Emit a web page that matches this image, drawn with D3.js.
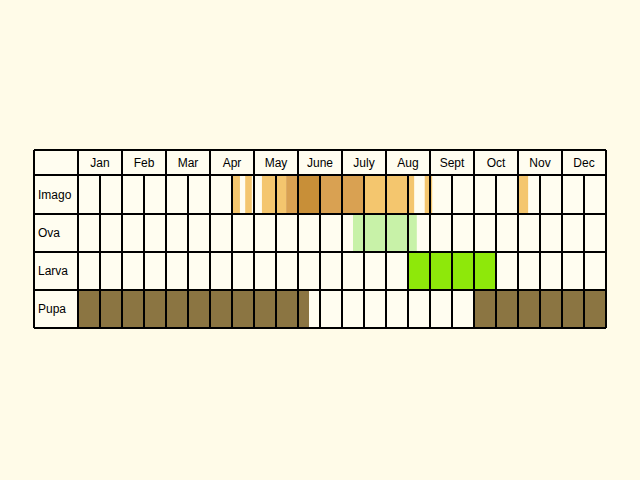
<!DOCTYPE html><html><head><script src="https://cdn.jsdelivr.net/npm/d3@7"></script>
<style>body{margin:0;background:#fffbe8}</style></head><body><svg id="c" width="640" height="480"></svg>
<script>
const months=["Jan","Feb","Mar","Apr","May","June","July","Aug","Sept","Oct","Nov","Dec"];
const stages=["Imago","Ova","Larva","Pupa"];
// spans in months (0 = Jan 1), [stage,start,end,shade]
const imagoSpans=[[3.5,3.68,"l"],[3.8,3.95,"l"],[4.18,4.48,"l"],[4.52,4.73,"l"],[4.73,5.0,"m"],[5.0,5.5,"d"],[5.5,6.5,"m"],[6.5,7.5,"l"],[7.5,7.64,"l"],[7.88,8.05,"l"],[10.0,10.23,"l"]];
const ovaSpans=[[6.25,7.7]];
const larvaSpans=[[7.5,9.5]];
const pupaSpans=[[0,5.25],[9.0,12]];
const shades={l:"#f4c66e",m:"#d9a152",d:"#c88f38"};
const svg=d3.select("#c");
svg.append("rect").attr("width",640).attr("height",480).attr("fill","#fffbe8");
const x=d3.scaleLinear().domain([0,12]).range([78,606]);
const y=d3.scaleBand().domain(["hdr",...stages]).range([150,328]).paddingInner(0);
// custom row heights: header shorter
const rowY={hdr:[150,175],Imago:[175,214],Ova:[214,252],Larva:[252,290],Pupa:[290,328]};
svg.append("rect").attr("x",34).attr("y",150).attr("width",572).attr("height",178).attr("fill","#fffdf0");
function spans(row,arr,col){svg.selectAll(null).data(arr).enter().append("rect")
 .attr("x",d=>x(d[0])).attr("width",d=>x(d[1])-x(d[0])).attr("y",rowY[row][0]).attr("height",rowY[row][1]-rowY[row][0])
 .attr("fill",d=>col||shades[d[2]]);}
spans("Imago",imagoSpans);spans("Ova",ovaSpans,"#c8f2a8");spans("Larva",larvaSpans,"#8ee80a");spans("Pupa",pupaSpans,"#8b7542");
const g=svg.append("g").attr("stroke","#000").attr("stroke-width",2);
d3.range(0,24.5).forEach(i=>{const xx=x(i/2);g.append("line").attr("x1",xx).attr("x2",xx).attr("y1",i%2?175:150).attr("y2",328);});
g.append("line").attr("x1",34).attr("x2",34).attr("y1",150).attr("y2",328);
Object.values(rowY).forEach(r=>g.append("line").attr("x1",34).attr("x2",606).attr("y1",r[0]).attr("y2",r[0]));
g.append("line").attr("x1",34).attr("x2",606).attr("y1",328).attr("y2",328);
svg.selectAll(null).data(months).enter().append("text").attr("x",(d,i)=>x(i+0.5)).attr("y",167).attr("text-anchor","middle")
 .attr("font-family","Liberation Sans, Arial").attr("font-size",12).text(d=>d);
svg.selectAll(null).data(stages).enter().append("text").attr("x",38).attr("y",d=>(rowY[d][0]+rowY[d][1])/2+4)
 .attr("font-family","Liberation Sans, Arial").attr("font-size",12).text(d=>d);
</script></body></html>
